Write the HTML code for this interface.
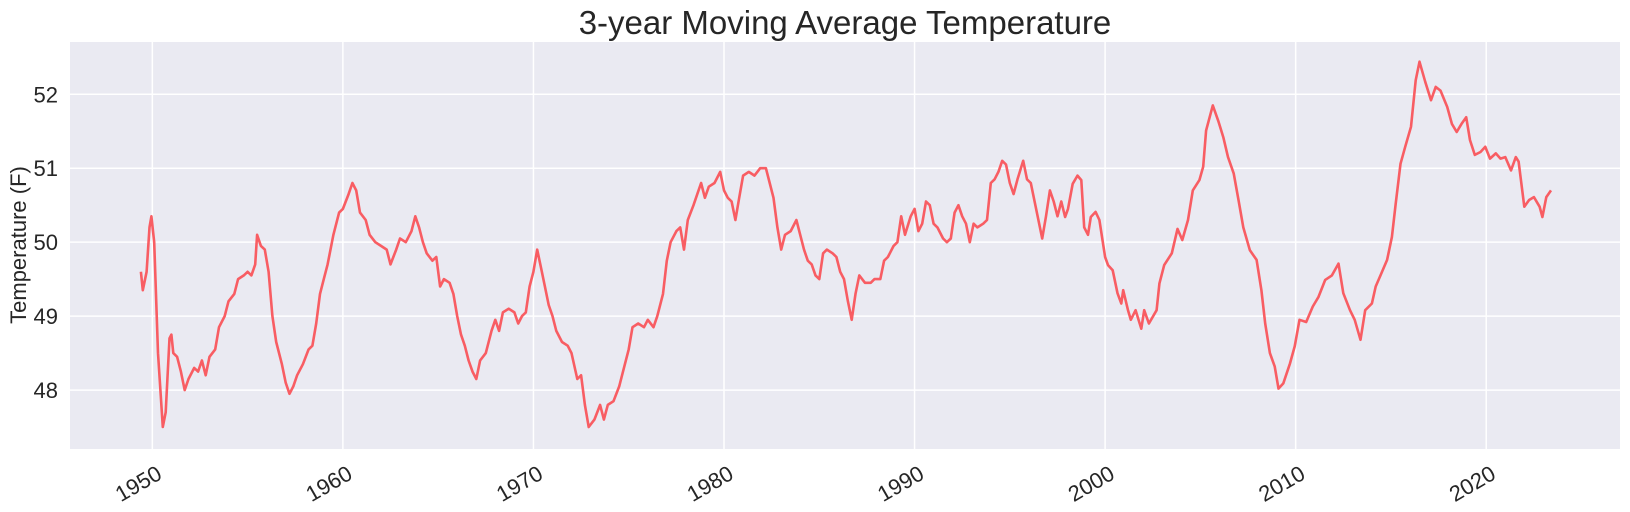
<!DOCTYPE html>
<html><head><meta charset="utf-8"><style>
html,body{margin:0;padding:0;background:#fff;}
svg{display:block;font-family:"Liberation Sans",Arial,sans-serif;}
</style></head><body>
<svg id="chart" width="1630" height="512" viewBox="0 0 1630 512" xmlns="http://www.w3.org/2000/svg">
<text x="845" y="34" font-size="33" text-anchor="middle" fill="#262626">3-year Moving Average Temperature</text>
<rect x="70" y="42" width="1550" height="407" fill="#eaeaf2"/>
<g id="grid"></g>
<g id="yticks"></g>
<g id="xticks"></g>
<text transform="translate(26,245) rotate(-90)" font-size="22" text-anchor="middle" fill="#262626">Temperature (F)</text>
<path id="line" fill="none" stroke="#f9555b" stroke-opacity="0.95" stroke-width="2.6" stroke-linejoin="round"/>
</svg>
<script>
const years = [1949.4,1949.5,1949.7,1949.85,1949.95,1950.1,1950.3,1950.55,1950.7,1950.9,1951.0,1951.1,1951.3,1951.5,1951.7,1951.9,1952.2,1952.4,1952.6,1952.8,1953.0,1953.3,1953.5,1953.8,1954.0,1954.3,1954.5,1954.8,1955.0,1955.2,1955.4,1955.5,1955.7,1955.9,1956.1,1956.3,1956.5,1956.8,1957.0,1957.2,1957.4,1957.6,1957.9,1958.2,1958.4,1958.6,1958.8,1959.0,1959.2,1959.5,1959.8,1960.0,1960.3,1960.5,1960.7,1960.9,1961.2,1961.4,1961.7,1962.0,1962.3,1962.5,1962.8,1963.0,1963.3,1963.6,1963.8,1964.0,1964.2,1964.4,1964.7,1964.9,1965.1,1965.3,1965.6,1965.8,1966.0,1966.2,1966.4,1966.6,1966.8,1967.0,1967.2,1967.5,1967.8,1968.0,1968.2,1968.4,1968.7,1969.0,1969.2,1969.4,1969.6,1969.8,1970.0,1970.2,1970.4,1970.6,1970.8,1971.0,1971.2,1971.5,1971.8,1972.0,1972.3,1972.5,1972.7,1972.9,1973.2,1973.5,1973.7,1973.9,1974.2,1974.5,1974.8,1975.0,1975.2,1975.5,1975.8,1976.0,1976.3,1976.5,1976.8,1977.0,1977.2,1977.5,1977.7,1977.9,1978.1,1978.4,1978.6,1978.8,1979.0,1979.2,1979.5,1979.8,1980.0,1980.2,1980.4,1980.6,1980.8,1981.0,1981.3,1981.6,1981.9,1982.2,1982.4,1982.6,1982.8,1983.0,1983.2,1983.5,1983.8,1984.0,1984.2,1984.4,1984.6,1984.8,1985.0,1985.2,1985.4,1985.7,1985.9,1986.1,1986.3,1986.5,1986.7,1986.9,1987.1,1987.4,1987.7,1987.9,1988.2,1988.4,1988.6,1988.9,1989.1,1989.3,1989.5,1989.8,1990.0,1990.2,1990.4,1990.6,1990.8,1991.0,1991.2,1991.5,1991.7,1991.9,1992.1,1992.3,1992.5,1992.7,1992.9,1993.1,1993.3,1993.6,1993.8,1994.0,1994.2,1994.4,1994.6,1994.8,1995.0,1995.2,1995.4,1995.7,1995.9,1996.1,1996.3,1996.5,1996.7,1996.9,1997.1,1997.3,1997.5,1997.7,1997.9,1998.05,1998.3,1998.55,1998.75,1998.9,1999.1,1999.25,1999.5,1999.7,2000.0,2000.15,2000.4,2000.65,2000.85,2000.95,2001.2,2001.35,2001.6,2001.9,2002.05,2002.3,2002.7,2002.85,2003.1,2003.5,2003.8,2004.05,2004.35,2004.6,2004.95,2005.15,2005.3,2005.65,2005.95,2006.2,2006.45,2006.75,2007.0,2007.25,2007.6,2007.95,2008.2,2008.4,2008.65,2008.9,2009.1,2009.35,2009.7,2009.95,2010.2,2010.55,2010.9,2011.2,2011.55,2011.9,2012.25,2012.5,2012.85,2013.1,2013.4,2013.65,2014.0,2014.2,2014.5,2014.8,2015.05,2015.25,2015.5,2015.75,2016.05,2016.3,2016.5,2016.8,2017.1,2017.35,2017.6,2017.95,2018.2,2018.45,2018.7,2018.95,2019.15,2019.4,2019.7,2019.95,2020.2,2020.5,2020.75,2021.0,2021.3,2021.55,2021.7,2022.0,2022.25,2022.5,2022.8,2022.95,2023.15,2023.4];
const temps = [49.6,49.35,49.6,50.2,50.35,50.0,48.5,47.5,47.7,48.7,48.75,48.5,48.45,48.25,48.0,48.15,48.3,48.25,48.4,48.2,48.45,48.55,48.85,49.0,49.2,49.3,49.5,49.55,49.6,49.55,49.7,50.1,49.95,49.9,49.6,49.0,48.65,48.35,48.1,47.95,48.05,48.2,48.35,48.55,48.6,48.9,49.3,49.5,49.7,50.1,50.4,50.45,50.65,50.8,50.7,50.4,50.3,50.1,50.0,49.95,49.9,49.7,49.9,50.05,50.0,50.15,50.35,50.2,50.0,49.85,49.75,49.8,49.4,49.5,49.45,49.3,49.0,48.75,48.6,48.4,48.25,48.15,48.4,48.5,48.8,48.95,48.8,49.05,49.1,49.05,48.9,49.0,49.05,49.4,49.6,49.9,49.65,49.4,49.15,49.0,48.8,48.65,48.6,48.5,48.15,48.2,47.8,47.5,47.6,47.8,47.6,47.8,47.85,48.05,48.35,48.55,48.85,48.9,48.85,48.95,48.85,49.0,49.3,49.75,50.0,50.15,50.2,49.9,50.3,50.5,50.65,50.8,50.6,50.75,50.8,50.95,50.7,50.6,50.55,50.3,50.6,50.9,50.95,50.9,51.0,51.0,50.8,50.6,50.2,49.9,50.1,50.15,50.3,50.1,49.9,49.75,49.7,49.55,49.5,49.85,49.9,49.85,49.8,49.6,49.5,49.2,48.95,49.3,49.55,49.45,49.45,49.5,49.5,49.75,49.8,49.95,50.0,50.35,50.1,50.35,50.45,50.15,50.25,50.55,50.5,50.25,50.2,50.05,50.0,50.05,50.4,50.5,50.35,50.25,50.0,50.25,50.2,50.25,50.3,50.8,50.85,50.95,51.1,51.05,50.8,50.65,50.85,51.1,50.85,50.8,50.55,50.3,50.05,50.35,50.7,50.55,50.35,50.55,50.34,50.45,50.79,50.9,50.84,50.2,50.1,50.34,50.41,50.3,49.8,49.69,49.62,49.31,49.17,49.35,49.08,48.95,49.08,48.83,49.08,48.9,49.08,49.44,49.69,49.85,50.18,50.03,50.3,50.7,50.84,51.02,51.51,51.85,51.63,51.42,51.15,50.93,50.57,50.2,49.89,49.76,49.35,48.9,48.5,48.32,48.02,48.09,48.36,48.59,48.95,48.92,49.13,49.26,49.49,49.55,49.71,49.31,49.08,48.95,48.68,49.08,49.17,49.4,49.58,49.76,50.07,50.52,51.06,51.29,51.56,52.19,52.44,52.17,51.92,52.1,52.05,51.83,51.6,51.49,51.6,51.69,51.38,51.18,51.22,51.29,51.13,51.2,51.13,51.15,50.97,51.15,51.09,50.48,50.57,50.61,50.48,50.34,50.61,50.7];
const xTickLabels = ["1950","1960","1970","1980","1990","2000","2010","2020"];
const yTickLabels = ["48","49","50","51","52"];

const X0=70, X1=1620, Y0=42, Y1=449;
const xMin=1945.68, xMax=2027.02, yMin=47.203, yMax=52.707;
function xScale(v){return X0+(v-xMin)/(xMax-xMin)*(X1-X0);}
function yScale(v){return Y1-(v-yMin)/(yMax-yMin)*(Y1-Y0);}
const NS="http://www.w3.org/2000/svg";
const grid=document.getElementById('grid'), xt=document.getElementById('xticks'), yt=document.getElementById('yticks');
xTickLabels.forEach(l=>{
  const x=xScale(+l);
  const ln=document.createElementNS(NS,'line');
  
  
  ln.setAttribute('x1',x);ln.setAttribute('x2',x);ln.setAttribute('y1',Y0);ln.setAttribute('y2',Y1);
  ln.setAttribute('stroke','#fff');ln.setAttribute('stroke-width','1.5');
  grid.appendChild(ln);
  const t=document.createElementNS(NS,'text');
  
  
  t.setAttribute('transform','translate('+(x+3)+','+(Y1+15)+') rotate(-30)');
  t.setAttribute('text-anchor','end');t.setAttribute('dominant-baseline','hanging');
  t.setAttribute('font-size','22');t.setAttribute('fill','#262626');
  t.textContent=l; xt.appendChild(t);
});
yTickLabels.forEach(l=>{
  const y=yScale(+l);
  const ln=document.createElementNS(NS,'line');
  
  
  ln.setAttribute('x1',X0);ln.setAttribute('x2',X1);ln.setAttribute('y1',y);ln.setAttribute('y2',y);
  ln.setAttribute('stroke','#fff');ln.setAttribute('stroke-width','1.5');
  grid.appendChild(ln);
  const t=document.createElementNS(NS,'text');
  
  
  t.setAttribute('x',X0-12);t.setAttribute('y',y+8);
  t.setAttribute('text-anchor','end');t.setAttribute('font-size','22');t.setAttribute('fill','#262626');
  t.textContent=l; yt.appendChild(t);
});
let d='';
years.forEach((yr,i)=>{d+=(i?'L':'M')+xScale(yr).toFixed(1)+','+yScale(temps[i]).toFixed(1);});
document.getElementById('line').setAttribute('d',d);
</script>
</body></html>
